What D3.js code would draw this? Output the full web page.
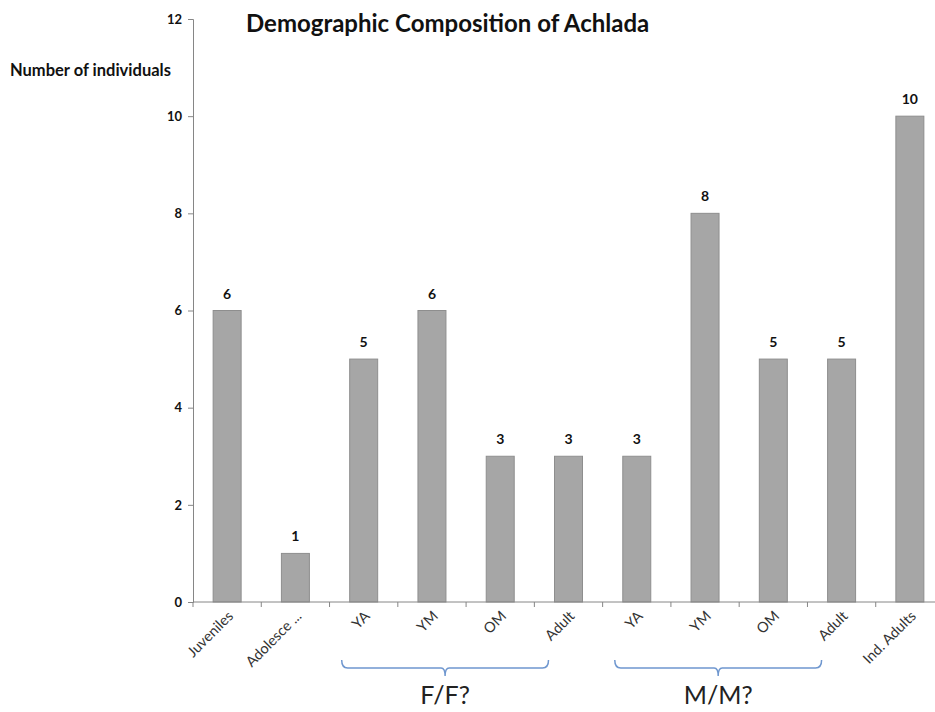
<!DOCTYPE html>
<html>
<head>
<meta charset="utf-8">
<script src="https://cdn.jsdelivr.net/npm/d3@7"></script>
<style>
  body { margin: 0; background: #fff; }
  svg { font-family: Lato, "Liberation Sans", sans-serif; }
</style>
</head>
<body>
<div id="chart"></div>
<script>
// values
const categories = ["Juveniles", "Adolesce ...", "YA", "YM", "OM", "Adult", "YA", "YM", "OM", "Adult", "Ind. Adults"]
const counts = [6, 1, 5, 6, 3, 3, 3, 8, 5, 5, 10]
const yTicks = [0, 2, 4, 6, 8, 10, 12]

// brackets under the x axis
const groupLabels = ["F/F?", "M/M?"]
const groupStart = [2, 6]
const groupEnd = [5, 9]

const fullWidth = 935
const fullHeight = 712

const svg = d3.select("#chart")
    .append("svg")
    .attr("width", fullWidth)
    .attr("height", fullHeight)

const x = d3.scaleBand()
    .domain(d3.range(categories.length))
    .range([193, 944])
    .paddingInner(0.59)
    .paddingOuter(0.295)

const y = d3.scaleLinear()
    .domain([0, 12])
    .range([602, 19])

const center = i => x(i) + x.bandwidth() / 2

// bars
svg.selectAll("rect.bar")
    .data(counts)
    .join("rect")
    .attr("class", "bar")
    .attr("x", (d, i) => x(i))
    .attr("y", d => y(d))
    .attr("width", x.bandwidth())
    .attr("height", d => y(0) - y(d))
    .attr("fill", "#a6a6a6")
    .attr("stroke", "#8e8e8e")
    .attr("stroke-width", 1)

// value labels
svg.selectAll("text.val")
    .data(counts)
    .join("text")
    .attr("class", "val")
    .attr("x", (d, i) => center(i))
    .attr("y", d => y(d) - 12)
    .attr("text-anchor", "middle")
    .attr("font-size", 14)
    .attr("font-weight", "bold")
    .attr("fill", "#111")
    .text(d => d)

// y axis
const yAxis = svg.append("g")
    .attr("transform", "translate(193,0)")
    .call(d3.axisLeft(y).tickValues(yTicks).tickSize(5).tickPadding(6))
yAxis.select(".domain").attr("stroke", "#868686")
yAxis.selectAll(".tick line").attr("stroke", "#868686")
yAxis.selectAll(".tick text")
    .attr("font-size", 13)
    .attr("font-weight", "bold")
    .attr("fill", "#111")
    .attr("font-family", "Lato, sans-serif")

// x axis (ticks between bands)
svg.append("line")
    .attr("x1", 193).attr("x2", 944)
    .attr("y1", y(0)).attr("y2", y(0))
    .attr("stroke", "#868686")
svg.selectAll("line.xtick")
    .data(d3.range(categories.length + 1))
    .join("line")
    .attr("class", "xtick")
    .attr("x1", i => 193 + i * x.step())
    .attr("x2", i => 193 + i * x.step())
    .attr("y1", y(0))
    .attr("y2", y(0) + 5)
    .attr("stroke", "#868686")

svg.selectAll("text.cat")
    .data(categories)
    .join("text")
    .attr("class", "cat")
    .attr("transform", (d, i) => `translate(${center(i) + 7},${y(0) + 15}) rotate(-45)`)
    .attr("text-anchor", "end")
    .attr("font-size", 14.5)
    .attr("fill", "#333")
    .text(d => d)

// brackets
groupLabels.forEach((label, g) => {
    const x0 = center(groupStart[g]) - 22
    const x1 = center(groupEnd[g]) - 20
    const xm = (x0 + x1) / 2
    const top = 660, mid = 668, tip = 676
    const p = d3.path()
    p.moveTo(x0, top)
    p.quadraticCurveTo(x0, mid, x0 + 6, mid)
    p.lineTo(xm - 4, mid)
    p.quadraticCurveTo(xm, mid, xm, tip)
    p.quadraticCurveTo(xm, mid, xm + 4, mid)
    p.lineTo(x1 - 6, mid)
    p.quadraticCurveTo(x1, mid, x1, top)
    svg.append("path")
        .attr("d", p.toString())
        .attr("fill", "none")
        .attr("stroke", "#6f97cf")
        .attr("stroke-width", 1.5)
    svg.append("text")
        .attr("x", xm)
        .attr("y", 704)
        .attr("text-anchor", "middle")
        .attr("font-size", 25)
        .attr("fill", "#222")
        .text(label)
})

// titles
svg.append("text")
    .attr("x", 246)
    .attr("y", 32)
    .attr("font-size", 24)
    .attr("font-weight", "bold")
    .attr("fill", "#111")
    .text("Demographic Composition of Achlada")

svg.append("text")
    .attr("x", 10)
    .attr("y", 76)
    .attr("font-size", 16.5)
    .attr("font-weight", "bold")
    .attr("fill", "#111")
    .text("Number of individuals")
</script>
</body>
</html>
